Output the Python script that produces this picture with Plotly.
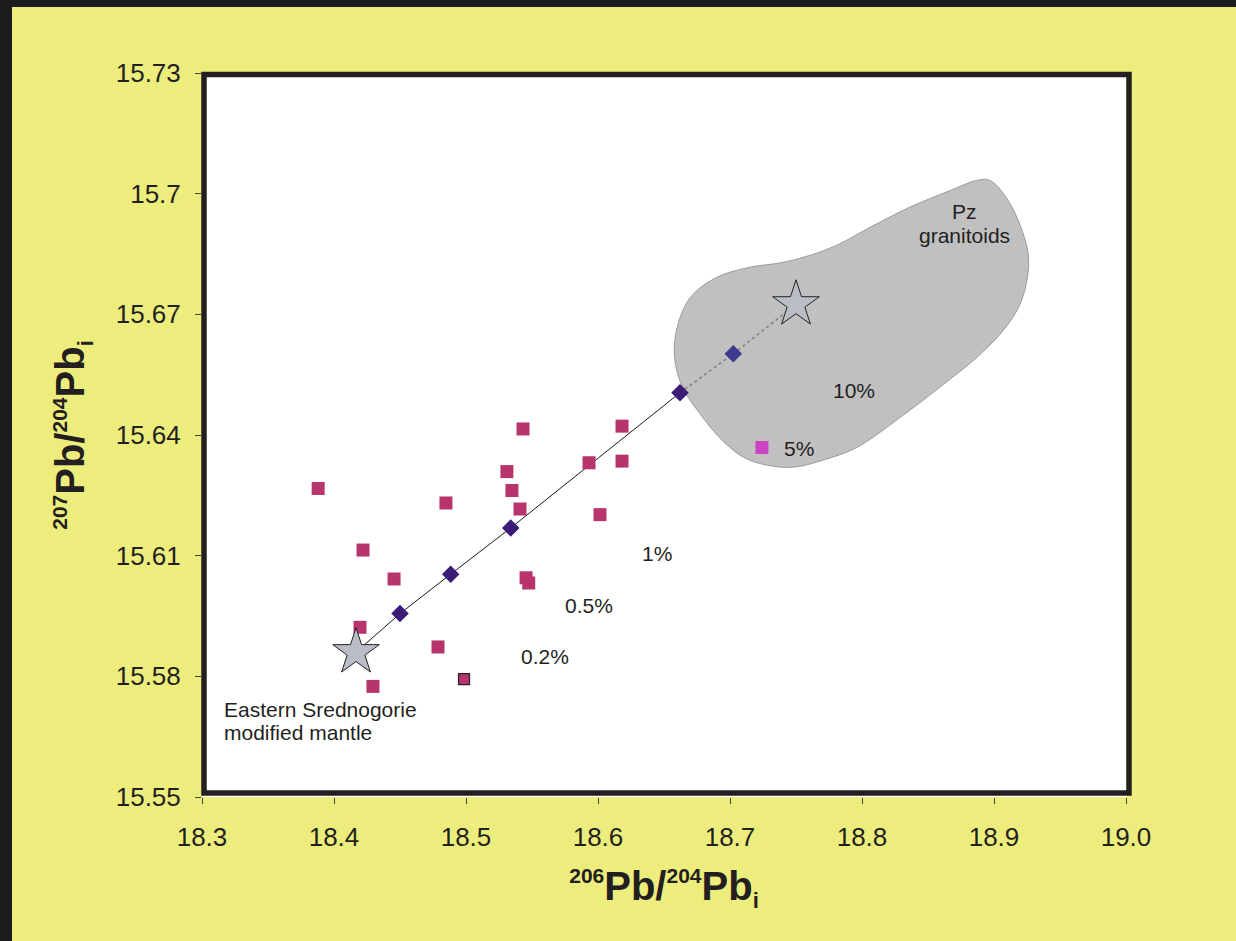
import plotly.graph_objects as go

# ---------------- data ----------------
x_ticks = [18.3, 18.4, 18.5, 18.6, 18.7, 18.8, 18.9, 19.0]
x_ticktext = ["18.3", "18.4", "18.5", "18.6", "18.7", "18.8", "18.9", "19.0"]
y_ticks = [15.55, 15.58, 15.61, 15.64, 15.67, 15.70, 15.73]
y_ticktext = ["15.55", "15.58", "15.61", "15.64", "15.67", "15.7", "15.73"]

# samples (magenta squares)
sample_x = [18.388, 18.422, 18.4455, 18.4197, 18.4295, 18.4848, 18.4788,
            18.531, 18.5348, 18.5409, 18.5432, 18.5455, 18.5475,
            18.5932, 18.6015, 18.6182, 18.6182]
sample_y = [15.6267, 15.6114, 15.6042, 15.5922, 15.5775, 15.6231, 15.5873,
            15.6309, 15.6262, 15.6216, 15.6415, 15.6045, 15.6032,
            15.6331, 15.6202, 15.6422, 15.6335]

# outlined sample
outlined_x = [18.4985]
outlined_y = [15.5793]

# bright magenta sample inside Pz field
bright_x = [18.7242]
bright_y = [15.6369]

# end members (stars)
star_x = [18.4167, 18.750]
star_y = [15.5860, 15.6725]

# mixing points (diamonds) and their labels
mix_x = [18.450, 18.4884, 18.5339, 18.6621, 18.7025]
mix_y = [15.5956, 15.6054, 15.6169, 15.6505, 15.6602]

pct_labels = ["0.2%", "0.5%", "1%", "5%", "10%"]
pct_x = [18.5598, 18.593, 18.6447, 18.7395, 18.7939]
pct_y = [15.5850, 15.5977, 15.6106, 15.6367, 15.6511]

# text labels (one entry per line)
pz_label = ["Pz", "granitoids"]
pz_label_x = [18.878, 18.878]
pz_label_y = [15.6955, 15.6896]
mantle_label = ["Eastern Srednogorie", "modified mantle"]
mantle_label_x = [18.3152, 18.3152]
mantle_label_y = [15.5718, 15.5660]

# Pz granitoids field outline
pz_x = [18.897, 18.912, 18.925, 18.926, 18.920, 18.907, 18.887, 18.859, 18.829,
        18.796, 18.770, 18.748, 18.728, 18.710, 18.692, 18.677, 18.664, 18.658,
        18.660, 18.670, 18.690, 18.715, 18.740, 18.761, 18.781, 18.806, 18.836,
        18.867, 18.887, 18.897]
pz_y = [15.7033, 15.6976, 15.6867, 15.6810, 15.6727, 15.6660, 15.6593, 15.6519,
        15.6444, 15.6369, 15.6337, 15.6320, 15.6325, 15.6345, 15.6394, 15.6454,
        15.6519, 15.6593, 15.6668, 15.6742, 15.6792, 15.6817, 15.6829, 15.6847,
        15.6872, 15.6916, 15.6966, 15.7008, 15.7033, 15.7033]

# ---------------- style ----------------
YELLOW = "#EDED7D"
DARK = "#231F20"
FONT = "Liberation Sans, Arial, Helvetica, sans-serif"

fig = go.Figure()

# Pz field
fig.add_trace(go.Scatter(
    x=pz_x, y=pz_y, mode="lines", fill="toself",
    fillcolor="#C0C0C0", line=dict(color="#9A9A9A", width=1, shape="spline", smoothing=1),
    hoverinfo="skip", showlegend=False))

# mixing line: solid part outside the field, dotted grey part inside
fig.add_trace(go.Scatter(
    x=[star_x[0]] + mix_x[:4], y=[star_y[0]] + mix_y[:4], mode="lines",
    line=dict(color="#1A1A1A", width=1), showlegend=False, hoverinfo="skip"))
fig.add_trace(go.Scatter(
    x=mix_x[3:] + [star_x[1]], y=mix_y[3:] + [star_y[1]], mode="lines",
    line=dict(color="#7F7F7F", width=1.5, dash="dot"), showlegend=False, hoverinfo="skip"))

# diamonds
fig.add_trace(go.Scatter(
    x=mix_x, y=mix_y, mode="markers",
    marker=dict(symbol="diamond", size=13.5,
                color=["#3A1B78", "#3A1B78", "#3A1B78", "#3A1B78", "#3E3B8E"],
                line=dict(width=0)),
    showlegend=False))

# samples
fig.add_trace(go.Scatter(
    x=sample_x, y=sample_y, mode="markers",
    marker=dict(symbol="square", size=13, color="#B8346C", line=dict(width=0)),
    showlegend=False))
fig.add_trace(go.Scatter(
    x=outlined_x, y=outlined_y, mode="markers",
    marker=dict(symbol="square", size=11, color="#B8346C", line=dict(width=1.2, color="#222222")),
    showlegend=False))
fig.add_trace(go.Scatter(
    x=bright_x, y=bright_y, mode="markers",
    marker=dict(symbol="square", size=13, color="#CC44C4", line=dict(width=0)),
    showlegend=False))

# stars
fig.add_trace(go.Scatter(
    x=star_x, y=star_y, mode="markers",
    marker=dict(symbol="star", size=35, color="#B9BDC5", line=dict(width=1, color="#222222")),
    showlegend=False))

TXT = dict(size=21, color=DARK, family=FONT)
annotations = []
for t, xx, yy in zip(pct_labels, pct_x, pct_y):
    annotations.append(dict(x=xx, y=yy, xref="x", yref="y", text=t, showarrow=False,
                            xanchor="left" if t == "5%" else "center", font=TXT))
for t, xx, yy in zip(pz_label, pz_label_x, pz_label_y):
    annotations.append(dict(x=xx, y=yy, xref="x", yref="y", text=t, showarrow=False,
                            xanchor="center", font=TXT))
for t, xx, yy in zip(mantle_label, mantle_label_x, mantle_label_y):
    annotations.append(dict(x=xx, y=yy, xref="x", yref="y", text=t, showarrow=False,
                            xanchor="left", font=TXT))

def px2paper_x(p):
    return (p - 202) / 924.0

def px2paper_y(p):
    return (797 - p) / 724.0

shapes = [
    # plot frame
    dict(type="rect", xref="paper", yref="paper",
         x0=px2paper_x(204), x1=px2paper_x(1129), y0=px2paper_y(793), y1=px2paper_y(74.5),
         line=dict(color=DARK, width=5.5), layer="above"),
    # outer dark border (top and left)
    dict(type="rect", xref="paper", yref="paper",
         x0=px2paper_x(-10), x1=px2paper_x(12), y0=px2paper_y(960), y1=px2paper_y(-10),
         line=dict(width=0), fillcolor="#1C1C1C", layer="above"),
    dict(type="rect", xref="paper", yref="paper",
         x0=px2paper_x(-10), x1=px2paper_x(1250), y0=px2paper_y(7), y1=px2paper_y(-10),
         line=dict(width=0), fillcolor="#1C1C1C", layer="above"),
]

sup = '<sup><span style="font-size:21px">{}</span></sup>'
sub = '<sub><span style="font-size:22px">{}</span></sub>'
xtitle = sup.format("206") + "Pb/" + sup.format("204") + "Pb" + sub.format("i")
ytitle = sup.format("207") + "Pb/" + sup.format("204") + "Pb" + sub.format("i")

fig.update_layout(
    width=1236, height=941,
    margin=dict(l=202, r=110, t=73, b=144, pad=0),
    paper_bgcolor=YELLOW, plot_bgcolor="white",
    font=dict(family=FONT, color=DARK),
    showlegend=False,
    annotations=annotations,
    shapes=shapes,
    xaxis=dict(range=[18.3, 19.0], tickvals=x_ticks, ticktext=x_ticktext,
               showgrid=False, zeroline=False, showline=False,
               ticks="outside", ticklen=6, tickwidth=1, tickcolor="#444444",
               ticklabelstandoff=11,
               tickfont=dict(size=26, color=DARK, family=FONT),
               title=dict(text=xtitle, standoff=20,
                          font=dict(size=40, weight="bold", color=DARK, family=FONT))),
    yaxis=dict(range=[15.55, 15.73], tickvals=y_ticks, ticktext=y_ticktext,
               showgrid=False, zeroline=False, showline=False,
               ticks="outside", ticklen=6, tickwidth=1, tickcolor="#444444",
               ticklabelstandoff=9,
               tickfont=dict(size=26, color=DARK, family=FONT),
               title=dict(text=ytitle, standoff=18,
                          font=dict(size=40, weight="bold", color=DARK, family=FONT))),
)

fig.write_html("out.html")
